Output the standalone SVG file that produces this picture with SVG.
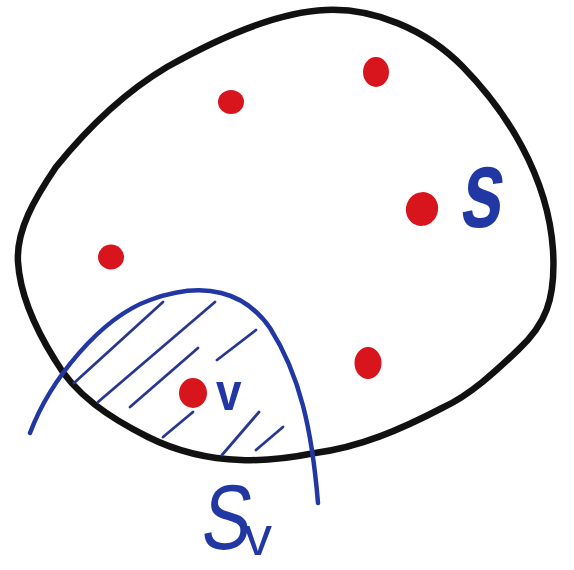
<svg xmlns="http://www.w3.org/2000/svg" width="574" height="570" viewBox="0 0 574 570">
<style>
.blob{fill:none;stroke:#111;stroke-width:6.5;stroke-linecap:round;stroke-linejoin:round}
.bl{fill:none;stroke:#2137a3;stroke-width:4.5;stroke-linecap:round}
.h{stroke:#283890;stroke-width:2.8;stroke-linecap:round}
.dot{fill:#d8141c}
.lab{fill:#2137a3;font-family:"Liberation Sans","DejaVu Sans",sans-serif}
</style>
<rect width="574" height="570" fill="#fff"/>
<g id="set-S">
<path class="blob" d="M326,10 C372,8 425,28 463,67 C505,110 548,175 553,250 C556,300 545,325 518,350 C495,372 470,395 444,407 C400,430 360,447 315,453 C290,458 265,461 241,460 C210,459 178,452 148,437 C110,418 75,395 55,360 C35,328 20,295 18,262 C16,230 35,198 56,167 C90,125 125,92 167,67 C215,40 275,12 326,10 Z"/>
</g>
<g id="set-Sv">
<path class="bl" d="M30,433 C50,380 100,318 150,300 C205,280 245,292 270,328 C300,375 312,430 318,503"/>
<line class="h" x1="74" y1="383" x2="163" y2="302"/>
<line class="h" x1="98" y1="402" x2="215" y2="302"/>
<line class="h" x1="130" y1="407" x2="198" y2="348"/>
<line class="h" x1="217" y1="360" x2="256" y2="330"/>
<line class="h" x1="163" y1="437" x2="193" y2="412"/>
<line class="h" x1="222" y1="455" x2="259" y2="412"/>
<line class="h" x1="256" y1="450" x2="283" y2="427"/>
</g>
<g id="points">
<ellipse class="dot" cx="376" cy="72" rx="13" ry="15"/>
<ellipse class="dot" cx="231" cy="102" rx="13" ry="12"/>
<ellipse class="dot" cx="422" cy="209" rx="16" ry="17" transform="rotate(20 422 209)"/>
<ellipse class="dot" cx="111" cy="257" rx="13" ry="12.5"/>
<ellipse class="dot" cx="368" cy="363" rx="13.5" ry="16"/>
<ellipse class="dot" cx="193" cy="393" rx="14" ry="15"/>
</g>
<text class="lab" font-size="112" font-weight="bold" transform="translate(458,227) skewX(-8) scale(0.68,1)">s</text>
<text class="lab" font-size="54" font-weight="bold" transform="translate(216,410) scale(0.85,1)">v</text>
<text class="lab" font-size="92" transform="translate(199,549) skewX(-8) scale(0.8,1)">S</text>
<text class="lab" font-size="56" transform="translate(244,555)">v</text>
</svg>
